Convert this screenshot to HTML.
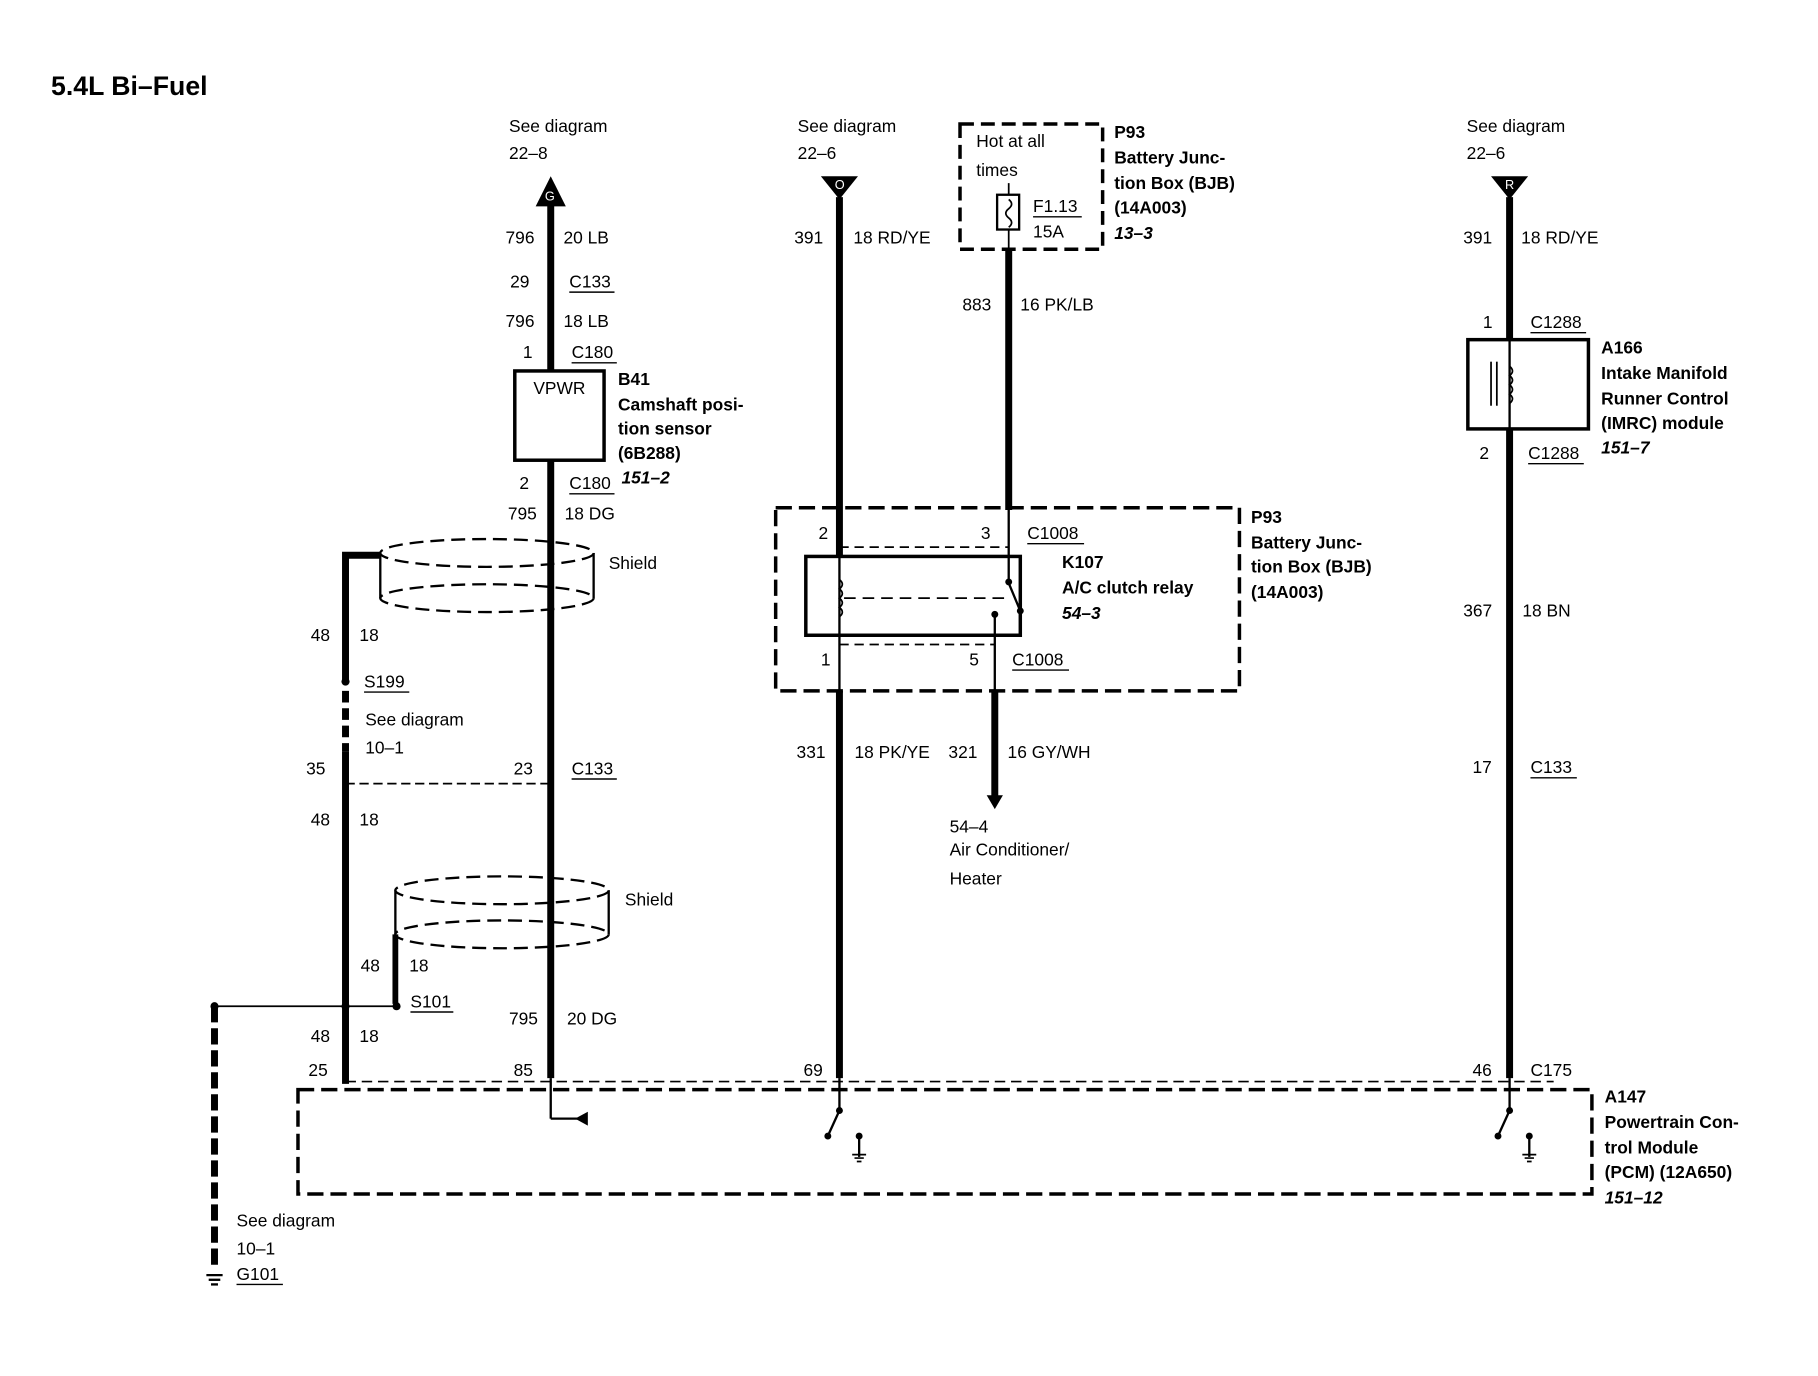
<!DOCTYPE html>
<html><head><meta charset="utf-8"><style>
html,body{margin:0;padding:0;background:#fff}
svg{display:block}
text{font-family:"Liberation Sans",sans-serif;font-size:15px;fill:#000}
.b{font-weight:bold}
.i{font-weight:bold;font-style:italic}
</style></head><body>
<svg width="1818" height="1376" viewBox="0 0 1568 1187" preserveAspectRatio="none" xmlns="http://www.w3.org/2000/svg">
<rect width="1568" height="1187" fill="#fff"/>
<text x="44" y="82" class="b" style="font-size:23px">5.4L Bi–Fuel</text>

<g stroke="#000" fill="none">
<polygon points="475,152 462,178 488,178" fill="#000" stroke="none"/>
<line x1="475" y1="176" x2="475" y2="320" stroke-width="6"/>
<rect x="444" y="320" width="77" height="77" stroke-width="3"/>
<line x1="475" y1="397" x2="475" y2="930" stroke-width="6"/>
<line x1="475" y1="930" x2="475" y2="965" stroke-width="2"/>
<line x1="475" y1="965" x2="498" y2="965" stroke-width="2"/>
<polygon points="496,965 507,959 507,971" fill="#000" stroke="none"/>
<ellipse cx="420" cy="477" rx="92" ry="12" stroke-width="2" stroke-dasharray="12,6"/>
<ellipse cx="420" cy="516" rx="92" ry="12" stroke-width="2" stroke-dasharray="12,6"/>
<line x1="328" y1="477" x2="328" y2="516" stroke-width="2"/>
<line x1="512" y1="477" x2="512" y2="516" stroke-width="2"/>
<ellipse cx="433" cy="768" rx="92" ry="12" stroke-width="2" stroke-dasharray="12,6"/>
<ellipse cx="433" cy="806" rx="92" ry="12" stroke-width="2" stroke-dasharray="12,6"/>
<line x1="341" y1="768" x2="341" y2="806" stroke-width="2"/>
<line x1="525" y1="768" x2="525" y2="806" stroke-width="2"/>
<polyline points="328,479 298,479 298,588" stroke-width="6"/>
<line x1="298" y1="596" x2="298" y2="648" stroke-width="6" stroke-dasharray="10,5"/>
<line x1="298" y1="648" x2="298" y2="935" stroke-width="6"/>
<line x1="298" y1="676" x2="475" y2="676" stroke-width="1.5" stroke-dasharray="8,4"/>
<line x1="341" y1="806" x2="341" y2="866" stroke-width="5"/>
<line x1="185" y1="868" x2="342" y2="868" stroke-width="1.5"/>
<line x1="185" y1="868" x2="185" y2="1096" stroke-width="6" stroke-dasharray="14,5"/>
<line x1="178" y1="1100" x2="192" y2="1100" stroke-width="2"/>
<line x1="180" y1="1104" x2="190" y2="1104" stroke-width="2"/>
<line x1="182" y1="1108" x2="188" y2="1108" stroke-width="2"/>

<polygon points="708,152 740,152 724,172" fill="#000" stroke="none"/>
<line x1="724" y1="170" x2="724" y2="480" stroke-width="6"/>
<line x1="724" y1="548" x2="724" y2="596" stroke-width="2"/>
<line x1="724" y1="596" x2="724" y2="930" stroke-width="6"/>
<rect x="828" y="107" width="123" height="108" stroke-width="3" stroke-dasharray="12,6"/>
<rect x="860" y="168" width="19" height="30" stroke-width="2"/>
<path d="M870,158 V168 M870,198 V215 M870,172 q5,4 0,8 q-5,4 0,8 q5,4 0,8" stroke-width="1.5"/>
<line x1="870" y1="215" x2="870" y2="440" stroke-width="6"/>
<rect x="669" y="438" width="400" height="158" stroke-width="3" stroke-dasharray="14,6"/>
<rect x="695" y="480" width="185" height="68" stroke-width="3"/>
<line x1="724" y1="440" x2="724" y2="548" stroke-width="2"/>
<line x1="870" y1="440" x2="870" y2="500" stroke-width="2"/>
<line x1="724" y1="472" x2="870" y2="472" stroke-width="1.5" stroke-dasharray="8,5"/>
<line x1="724" y1="556" x2="858" y2="556" stroke-width="1.5" stroke-dasharray="8,5"/>
<path d="M724,500 q5,4 0,8 q5,4 0,8 q5,4 0,8 q5,4 0,8" stroke-width="1.5"/>
<line x1="728" y1="516" x2="866" y2="516" stroke-width="1.5" stroke-dasharray="10,6"/>
<line x1="870" y1="503" x2="880" y2="527" stroke-width="2"/>
<circle cx="870" cy="502" r="2.5" fill="#000"/>
<circle cx="880" cy="527" r="2.5" fill="#000"/>
<circle cx="858" cy="530" r="2.5" fill="#000"/>
<line x1="858" y1="530" x2="858" y2="600" stroke-width="2"/>
<line x1="858" y1="596" x2="858" y2="688" stroke-width="6"/>
<polygon points="851,686 865,686 858,698" fill="#000" stroke="none"/>

<polygon points="1286,152 1318,152 1302,172" fill="#000" stroke="none"/>
<line x1="1302" y1="170" x2="1302" y2="293" stroke-width="6"/>
<rect x="1266" y="293" width="104" height="77" stroke-width="3"/>
<line x1="1302" y1="293" x2="1302" y2="370" stroke-width="2"/>
<path d="M1302,316 q5,4 0,8 q5,4 0,8 q5,4 0,8 q5,4 0,8" stroke-width="1.5"/>
<line x1="1286" y1="312" x2="1286" y2="350" stroke-width="1.5"/>
<line x1="1291" y1="312" x2="1291" y2="350" stroke-width="1.5"/>
<line x1="1302" y1="370" x2="1302" y2="930" stroke-width="6"/>

<line x1="298" y1="933" x2="1340" y2="933" stroke-width="1.5" stroke-dasharray="9,5"/>
<rect x="257" y="940" width="1116" height="90" stroke-width="3" stroke-dasharray="14,6"/>
<line x1="724" y1="930" x2="724" y2="958" stroke-width="2"/>
<line x1="724" y1="958" x2="714" y2="980" stroke-width="2"/>
<circle cx="724" cy="958" r="2.5" fill="#000"/><circle cx="714" cy="980" r="2.5" fill="#000"/>
<line x1="741" y1="980" x2="741" y2="998" stroke-width="2"/>
<circle cx="741" cy="980" r="2.5" fill="#000"/>
<path d="M735,996 h12 M737,999 h8 M739,1002 h4" stroke-width="1.5"/>
<line x1="1302" y1="930" x2="1302" y2="958" stroke-width="2"/>
<line x1="1302" y1="958" x2="1292" y2="980" stroke-width="2"/>
<circle cx="1302" cy="958" r="2.5" fill="#000"/><circle cx="1292" cy="980" r="2.5" fill="#000"/>
<line x1="1319" y1="980" x2="1319" y2="998" stroke-width="2"/>
<circle cx="1319" cy="980" r="2.5" fill="#000"/>
<path d="M1313,996 h12 M1315,999 h8 M1317,1002 h4" stroke-width="1.5"/>
</g>
<g fill="#000">
<circle cx="298" cy="588" r="3.5"/><circle cx="342" cy="868" r="3.5"/><circle cx="298" cy="868" r="3.5"/><circle cx="185" cy="868" r="3.5"/>
</g>
<text x="470" y="173" style="font-size:11px;fill:#fff">G</text>
<text x="720" y="163" style="font-size:11px;fill:#fff">O</text>
<text x="1298" y="163" style="font-size:11px;fill:#fff">R</text>

<text x="439" y="114">See diagram</text><text x="439" y="137">22–8</text>
<text x="436" y="210">796</text><text x="486" y="210">20 LB</text>
<text x="440" y="248">29</text><text x="491" y="248">C133</text>
<text x="436" y="282">796</text><text x="486" y="282">18 LB</text>
<text x="451" y="309">1</text><text x="493" y="309">C180</text>
<text x="460" y="340">VPWR</text>
<text x="533" y="332" class="b">B41</text><text x="533" y="354" class="b">Camshaft posi-</text><text x="533" y="375" class="b">tion sensor</text><text x="533" y="396" class="b">(6B288)</text>
<text x="448" y="422">2</text><text x="491" y="422">C180</text><text x="536" y="417" class="i">151–2</text>
<text x="438" y="448">795</text><text x="487" y="448">18 DG</text>
<text x="525" y="491">Shield</text>
<text x="268" y="553">48</text><text x="310" y="553">18</text>
<text x="314" y="593">S199</text>
<text x="315" y="626">See diagram</text><text x="315" y="650">10–1</text>
<text x="264" y="668">35</text><text x="443" y="668">23</text><text x="493" y="668">C133</text>
<text x="268" y="712">48</text><text x="310" y="712">18</text>
<text x="539" y="781">Shield</text>
<text x="311" y="838">48</text><text x="353" y="838">18</text>
<text x="354" y="869">S101</text>
<text x="439" y="884">795</text><text x="489" y="884">20 DG</text>
<text x="268" y="899">48</text><text x="310" y="899">18</text>
<text x="266" y="928">25</text><text x="443" y="928">85</text><text x="693" y="928">69</text>
<text x="1270" y="928">46</text><text x="1320" y="928">C175</text>
<text x="204" y="1058">See diagram</text><text x="204" y="1082">10–1</text><text x="204" y="1104">G101</text>

<text x="688" y="114">See diagram</text><text x="688" y="137">22–6</text>
<text x="685" y="210">391</text><text x="736" y="210">18 RD/YE</text>
<text x="842" y="127">Hot at all</text><text x="842" y="152">times</text>
<text x="891" y="183">F1.13</text><text x="891" y="205">15A</text>
<text x="961" y="119" class="b">P93</text><text x="961" y="141" class="b">Battery Junc-</text><text x="961" y="163" class="b">tion Box (BJB)</text><text x="961" y="184" class="b">(14A003)</text><text x="961" y="206" class="i">13–3</text>
<text x="830" y="268">883</text><text x="880" y="268">16 PK/LB</text>
<text x="1079" y="451" class="b">P93</text><text x="1079" y="473" class="b">Battery Junc-</text><text x="1079" y="494" class="b">tion Box (BJB)</text><text x="1079" y="516" class="b">(14A003)</text>
<text x="706" y="465">2</text><text x="846" y="465">3</text><text x="886" y="465">C1008</text>
<text x="916" y="490" class="b">K107</text><text x="916" y="512" class="b">A/C clutch relay</text><text x="916" y="534" class="i">54–3</text>
<text x="708" y="574">1</text><text x="836" y="574">5</text><text x="873" y="574">C1008</text>
<text x="687" y="654">331</text><text x="737" y="654">18 PK/YE</text><text x="818" y="654">321</text><text x="869" y="654">16 GY/WH</text>
<text x="819" y="718">54–4</text><text x="819" y="738">Air Conditioner/</text><text x="819" y="763">Heater</text>

<text x="1265" y="114">See diagram</text><text x="1265" y="137">22–6</text>
<text x="1262" y="210">391</text><text x="1312" y="210">18 RD/YE</text>
<text x="1279" y="283">1</text><text x="1320" y="283">C1288</text>
<text x="1381" y="305" class="b">A166</text><text x="1381" y="327" class="b">Intake Manifold</text><text x="1381" y="349" class="b">Runner Control</text><text x="1381" y="370" class="b">(IMRC) module</text><text x="1381" y="391" class="i">151–7</text>
<text x="1276" y="396">2</text><text x="1318" y="396">C1288</text>
<text x="1262" y="532">367</text><text x="1313" y="532">18 BN</text>
<text x="1270" y="667">17</text><text x="1320" y="667">C133</text>
<text x="1384" y="951" class="b">A147</text><text x="1384" y="973" class="b">Powertrain Con-</text><text x="1384" y="995" class="b">trol Module</text><text x="1384" y="1016" class="b">(PCM) (12A650)</text><text x="1384" y="1038" class="i">151–12</text>

<g stroke="#000" stroke-width="1.2">
<line x1="491" y1="252" x2="530" y2="252"/><line x1="493" y1="313" x2="532" y2="313"/><line x1="491" y1="426" x2="530" y2="426"/>
<line x1="314" y1="597" x2="353" y2="597"/><line x1="493" y1="672" x2="532" y2="672"/><line x1="354" y1="873" x2="391" y2="873"/>
<line x1="204" y1="1108" x2="244" y2="1108"/><line x1="886" y1="469" x2="935" y2="469"/><line x1="873" y1="578" x2="922" y2="578"/>
<line x1="891" y1="187" x2="933" y2="187"/><line x1="1320" y1="287" x2="1368" y2="287"/><line x1="1318" y1="400" x2="1366" y2="400"/>
<line x1="1320" y1="671" x2="1360" y2="671"/>
</g>
</svg>
</body></html>
